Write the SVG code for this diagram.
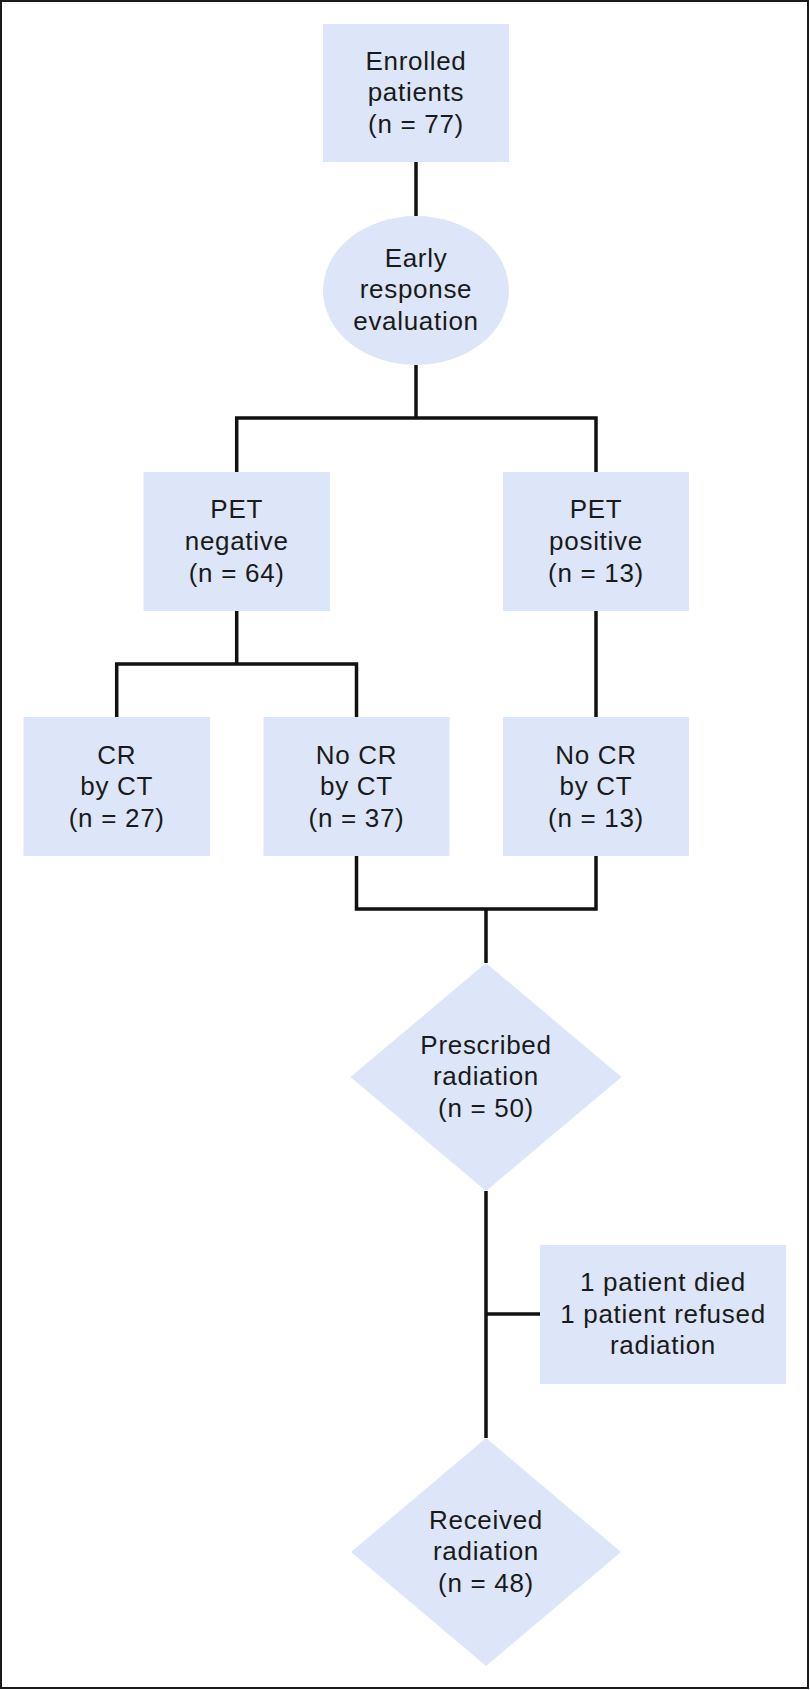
<svg xmlns="http://www.w3.org/2000/svg" width="810" height="1690" viewBox="0 0 810 1690">
<style>
.n{fill:#dce6f8;stroke:none}
.t{font-family:"Liberation Sans",Arial,sans-serif;font-size:26px;letter-spacing:0.7px;fill:#1a1a1a;text-anchor:middle}
.c{fill:none;stroke:#111;stroke-width:3.5;stroke-linejoin:miter}
</style>
<rect x="1" y="1" width="807" height="1687" fill="#fff" stroke="#1a1a1a" stroke-width="2"/>
<g id="connectors">
<line class="c" x1="416" y1="162" x2="416" y2="216"/>
<line class="c" x1="416" y1="365" x2="416" y2="418"/>
<polyline class="c" points="236.7,472 236.7,418 596,418 596,472"/>
<line class="c" x1="236.7" y1="611" x2="236.7" y2="664"/>
<polyline class="c" points="116.7,717 116.7,664 356.5,664 356.5,717"/>
<line class="c" x1="596" y1="611" x2="596" y2="717"/>
<polyline class="c" points="356.5,856 356.5,909 596,909 596,856"/>
<line class="c" x1="486" y1="909" x2="486" y2="963"/>
<line class="c" x1="486" y1="1191" x2="486" y2="1438"/>
<line class="c" x1="486" y1="1314" x2="540" y2="1314"/>
</g>
<g id="enrolled">
<rect class="n" x="323" y="24" width="186" height="138"/>
<text class="t" x="416" y="70">Enrolled</text>
<text class="t" x="416" y="101">patients</text>
<text class="t" x="416" y="132.5">(n = 77)</text>
</g>
<g id="early">
<ellipse class="n" cx="416" cy="290.5" rx="93" ry="74.5"/>
<text class="t" x="416" y="267">Early</text>
<text class="t" x="416" y="298">response</text>
<text class="t" x="416" y="330">evaluation</text>
</g>
<g id="petneg">
<rect class="n" x="143.5" y="472" width="186.5" height="139"/>
<text class="t" x="236.7" y="518">PET</text>
<text class="t" x="236.7" y="549.5">negative</text>
<text class="t" x="236.7" y="581.5">(n = 64)</text>
</g>
<g id="petpos">
<rect class="n" x="503" y="472" width="186" height="139"/>
<text class="t" x="596" y="518">PET</text>
<text class="t" x="596" y="549.5">positive</text>
<text class="t" x="596" y="581.5">(n = 13)</text>
</g>
<g id="cr">
<rect class="n" x="23.5" y="717" width="186.5" height="139"/>
<text class="t" x="116.7" y="763.5">CR</text>
<text class="t" x="116.7" y="795">by CT</text>
<text class="t" x="116.7" y="827">(n = 27)</text>
</g>
<g id="nocr37">
<rect class="n" x="263.5" y="717" width="186" height="139"/>
<text class="t" x="356.5" y="763.5">No CR</text>
<text class="t" x="356.5" y="795">by CT</text>
<text class="t" x="356.5" y="827">(n = 37)</text>
</g>
<g id="nocr13">
<rect class="n" x="503" y="717" width="186" height="139"/>
<text class="t" x="596" y="763.5">No CR</text>
<text class="t" x="596" y="795">by CT</text>
<text class="t" x="596" y="827">(n = 13)</text>
</g>
<g id="prescribed">
<polygon class="n" points="486,963 621.5,1077 486,1191 350.5,1077"/>
<text class="t" x="486" y="1053.5">Prescribed</text>
<text class="t" x="486" y="1084.5">radiation</text>
<text class="t" x="486" y="1117">(n = 50)</text>
</g>
<g id="excluded">
<rect class="n" x="540" y="1245" width="246" height="139"/>
<text class="t" x="663" y="1290.5">1 patient died</text>
<text class="t" x="663" y="1322.5">1 patient refused</text>
<text class="t" x="663" y="1353.5">radiation</text>
</g>
<g id="received">
<polygon class="n" points="486,1438 621,1552 486,1666 351,1552"/>
<text class="t" x="486" y="1528.5">Received</text>
<text class="t" x="486" y="1560">radiation</text>
<text class="t" x="486" y="1592">(n = 48)</text>
</g>
</svg>
